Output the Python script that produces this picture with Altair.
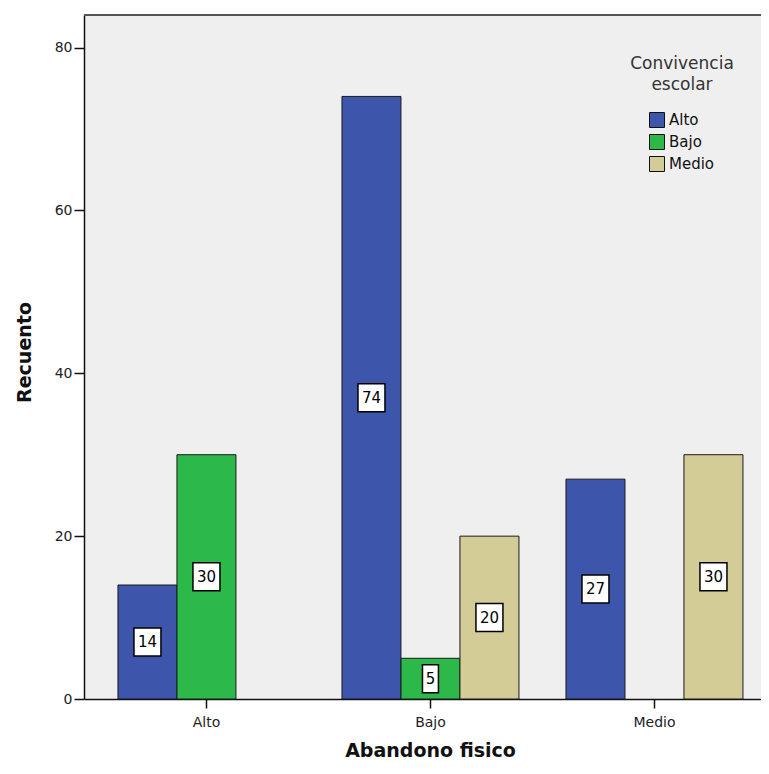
import altair as alt
import pandas as pd

# data
abandono = ["Alto", "Alto", "Bajo", "Bajo", "Bajo", "Medio", "Medio"]
convivencia = ["Alto", "Bajo", "Alto", "Bajo", "Medio", "Alto", "Medio"]
recuento = [14, 30, 74, 5, 20, 27, 30]

categorias = ["Alto", "Bajo", "Medio"]
colores = ["#3d55ab", "#2db84a", "#d4cc96"]
y_ticks = [0, 20, 40, 60, 80]

df = pd.DataFrame({"Abandono": abandono, "Convivencia": convivencia, "Recuento": recuento})

W, H = 677, 684
FONT = "DejaVu Sans"

x_enc = alt.X(
    "Abandono:N",
    scale=alt.Scale(domain=categorias, paddingInner=0.21, paddingOuter=0.1161, align=0.653),
    axis=alt.Axis(
        title="Abandono fisico",
        labelAngle=0,
        labelPadding=7,
        titleX=346,
        titleY=57,
        titleAlign="center",
        titleBaseline="alphabetic",
    ),
)
xo_enc = alt.XOffset("Convivencia:N", scale=alt.Scale(domain=categorias, paddingInner=0, paddingOuter=0))
y_scale = alt.Scale(domain=[0, 84], nice=False, zero=True)
y_axis = alt.Axis(
    values=y_ticks,
    grid=False,
    title="Recuento",
    labelPadding=2,
    tickSize=10,
    titleX=-60,
    titleY=337,
    titleAlign="center",
    titleBaseline="middle",
)

base = alt.Chart(df).encode(x=x_enc, xOffset=xo_enc)

bars = base.mark_bar(stroke="#1a1a1a", strokeWidth=1).encode(
    y=alt.Y("Recuento:Q", scale=y_scale, axis=y_axis),
    color=alt.Color(
        "Convivencia:N",
        scale=alt.Scale(domain=categorias, range=colores),
        legend=alt.Legend(
            title=["Convivencia", "escolar"],
            orient="none",
            legendX=546,
            legendY=41,
            titleAnchor="middle",
            titleAlign="center",
            titleFont=FONT,
            titleFontSize=17,
            titleLineHeight=21,
            titleFontWeight="normal",
            titleColor="#333",
            labelFont=FONT,
            labelFontSize=15,
            labelColor="#111",
            symbolType="square",
            symbolSize=225,
            symbolStrokeColor="#111",
            symbolStrokeWidth=1,
            symbolOpacity=1,
            rowPadding=2,
            labelOffset=4,
            titlePadding=18,
        ),
    ),
)

wide_box = "M-0.964,-1H0.964V1H-0.964Z"
narrow_box = "M-0.57,-1H0.57V1H-0.57Z"

boxes = base.transform_calculate(mid="datum.Recuento / 2").mark_point(
    filled=True, fill="white", stroke="black", strokeWidth=1.5, opacity=1, fillOpacity=1
).encode(
    y=alt.Y("mid:Q", scale=y_scale, axis=y_axis),
    shape=alt.condition("datum.Recuento < 10", alt.value(narrow_box), alt.value(wide_box)),
    size=alt.value(784),
)

labels = base.transform_calculate(mid="datum.Recuento / 2").mark_text(
    font=FONT, fontSize=15, color="black", baseline="middle", align="center"
).encode(
    y=alt.Y("mid:Q", scale=y_scale, axis=y_axis),
    text="Recuento:Q",
)

top_border = alt.Chart(pd.DataFrame({"k": [0]})).mark_rule(color="#555", strokeWidth=2).encode(
    x=alt.value(0), x2=alt.value(W), y=alt.value(0)
)

chart = (
    alt.layer(bars, boxes, labels, top_border)
    .properties(
        width=W,
        height=H,
        autosize=alt.AutoSizeParams(type="none"),
        padding={"left": 76, "top": 7, "right": 0, "bottom": 62},
    )
    .configure_view(fill="#efefef", stroke=None)
    .configure_axis(
        domainColor="#111",
        domainWidth=1.5,
        tickColor="#111",
        tickWidth=1.5,
        tickSize=9,
        labelFont=FONT,
        labelFontSize=14,
        labelColor="#222",
        titleFont=FONT,
        titleFontSize=19,
        titleFontWeight="bold",
        titleColor="#111",
    )
)

chart.save("out.html", embed_options={"renderer": "svg", "actions": False})
